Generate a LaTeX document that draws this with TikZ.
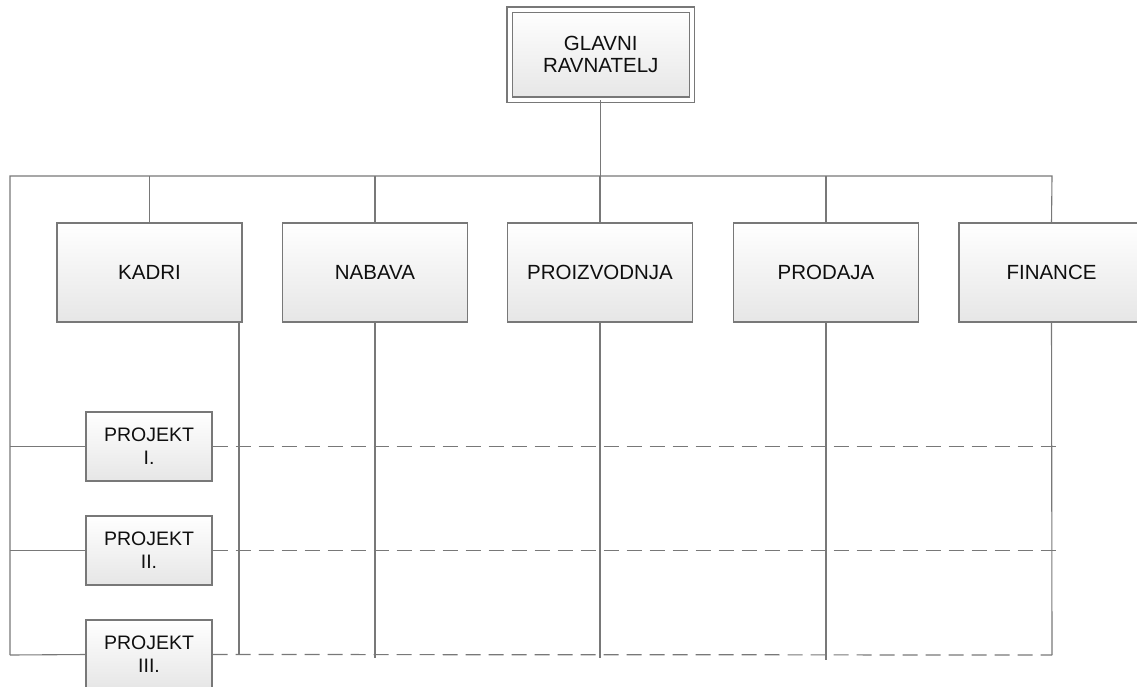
\documentclass[tikz,border=0pt]{standalone}
\usepackage{fontspec}
\setmainfont{Liberation Sans}
\definecolor{linegray}{RGB}{120,120,120}
\definecolor{boxbottom}{RGB}{230,230,230}
\definecolor{inkc}{RGB}{15,15,15}
\begin{document}
\begin{tikzpicture}[x=1pt,y=-1pt,
  conn/.style={draw=linegray,line width=1.1pt},
  dashconn/.style={draw=linegray,line width=1.2pt,dash pattern=on 15pt off 8pt},
  boxbase/.style={rectangle,draw=linegray,line width=1.1pt,top color=white,bottom color=boxbottom,
    shading angle=0,text=inkc,align=center,inner sep=0pt},
  deptbox/.style={boxbase,minimum width=185pt,minimum height=99pt,font=\fontsize{20.5}{22}\selectfont},
  projbox/.style={boxbase,minimum width=126pt,minimum height=69pt,font=\fontsize{19.5}{23}\selectfont},
  headbox/.style={boxbase,double=white,double distance=4pt,minimum width=182.5pt,minimum height=90pt,
    font=\fontsize{20.5}{22}\selectfont}]
\useasboundingbox (0,0) rectangle (1137,686);

% head of the organisation
\node[headbox] (gr) at (600.75,54.5) {GLAVNI\\RAVNATELJ};

% departments
\node[deptbox] (kadri) at (149.5,272.5) {KADRI};
\node[deptbox] (nabava) at (375,272.5) {NABAVA};
\node[deptbox] (proiz) at (600,272.5) {PROIZVODNJA};
\node[deptbox] (prodaja) at (826,272.5) {PRODAJA};
\node[deptbox] (finance) at (1051.5,272.5) {FINANCE};

% projects
\node[projbox] (p1) at (149,446.5) {PROJEKT\\I.};
\node[projbox] (p2) at (149,550.5) {PROJEKT\\II.};
\node[projbox] (p3) at (149,654.5) {PROJEKT\\III.};

% bus and line ends
\coordinate (busL) at (10,176);
\coordinate (busR) at (1052,176);
\coordinate (leftB) at (10,655);
\coordinate (kadriTop) at (239,322.5);
\coordinate (kadriEnd) at (239,655);
\coordinate (nabEnd) at (375,658);
\coordinate (proEnd) at (600,658);
\coordinate (prodEnd) at (826,660);
\coordinate (finEnd) at (1052,655);
\coordinate (d1) at (1056,446.5);
\coordinate (d2) at (1056,550.5);

% reporting lines
\draw[conn] (gr.south) -- (gr.south |- busL);
\draw[conn] (leftB) -- (busL) -- (busR) -- (finance.north);
\foreach \n in {kadri,nabava,proiz,prodaja}
  \draw[conn] (\n.north) -- (\n.north |- busL);
\draw[conn] (leftB |- p1.west) -- (p1.west);
\draw[conn] (leftB |- p2.west) -- (p2.west);
\draw[conn] (leftB) -- (p3.west);

% department columns
\draw[conn] (kadriTop) -- (kadriEnd);
\draw[conn] (nabava.south) -- (nabEnd);
\draw[conn] (proiz.south) -- (proEnd);
\draw[conn] (prodaja.south) -- (prodEnd);
\draw[conn] (finance.south) -- (finEnd);

% project lines across the departments
\draw[dashconn] (p1.east) -- (d1);
\draw[dashconn] (p2.east) -- (d2);
\draw[dashconn] (p3.east) -- (finEnd);
\end{tikzpicture}
\end{document}
